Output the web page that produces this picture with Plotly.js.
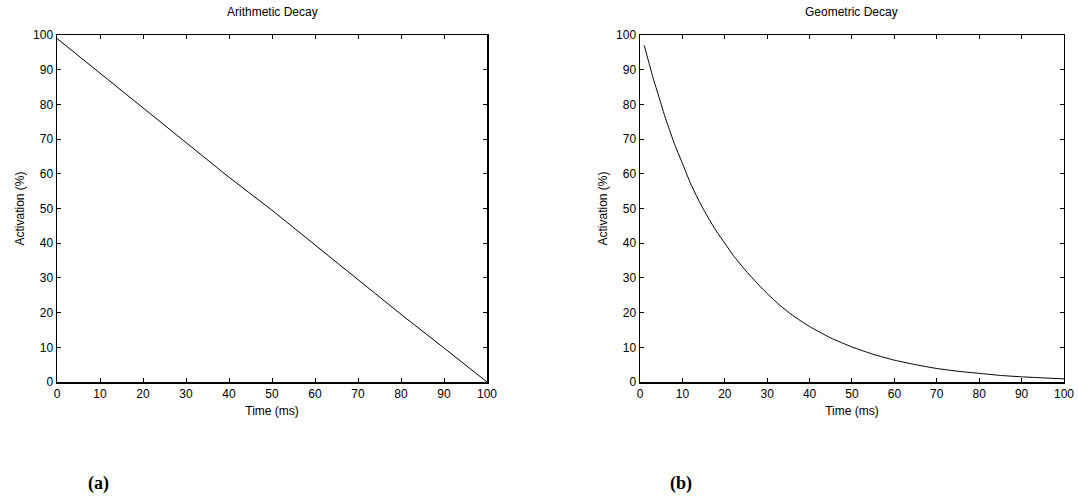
<!DOCTYPE html>
<html>
<head>
<meta charset="utf-8">
<script src="https://cdn.plot.ly/plotly-3.0.1.min.js"></script>
<style>html,body{margin:0;padding:0;background:#fff;}#chart{width:1078px;height:498px;}</style>
</head>
<body>
<div id="chart"></div>
<script>
// Arithmetic decay (panel a)
const arithTime = [0, 10, 20, 30, 40, 50, 60, 70, 80, 90, 100];
const arithActivation = [99, 89, 79, 69, 59, 49.5, 39.5, 29.5, 19.5, 9.8, 0];

// Geometric decay (panel b)
const geoTime = [1, 2, 3, 4, 5, 6, 7, 8, 10, 12, 14, 16, 18, 20, 22, 25, 28, 30, 33, 36, 40, 45, 50, 55, 60, 65, 70, 75, 80, 85, 90, 95, 100];
const geoActivation = [97, 92.5, 88, 84, 80, 76, 72.5, 69, 63, 57, 52, 47.5, 43.5, 40, 36.5, 32, 28, 25.5, 22.1, 19.2, 16, 12.7, 10.1, 8, 6.3, 5, 3.9, 3.1, 2.5, 1.9, 1.5, 1.2, 0.9];

const panelTitles = ["Arithmetic Decay", "Geometric Decay"];
const panelLabels = ["(a)", "(b)"];
const xTitle = "Time (ms)";
const yTitle = "Activation (%)";
const tickVals = [0, 10, 20, 30, 40, 50, 60, 70, 80, 90, 100];

const font = {family: "Liberation Sans, Arial, sans-serif", size: 12, color: "#000"};

function axis(domain, title, anchor) {
  return {
    domain: domain, anchor: anchor, range: [0, 100], tickvals: tickVals,
    ticks: "inside", ticklen: 4, tickcolor: "#000", mirror: "allticks",
    showline: true, linecolor: "#000", linewidth: 1.5, showgrid: false, zeroline: false,
    tickfont: font, title: {text: title, font: font, standoff: 6}
  };
}

const traces = [
  {x: arithTime, y: arithActivation, xaxis: "x", yaxis: "y", mode: "lines",
   line: {color: "#000", width: 1}, hoverinfo: "skip"},
  {x: geoTime, y: geoActivation, xaxis: "x2", yaxis: "y2", mode: "lines",
   line: {color: "#000", width: 1, shape: "spline", smoothing: 0.6}, hoverinfo: "skip"}
];

const yd = [0.2329, 0.9297];
const layout = {
  width: 1078, height: 498, margin: {l: 0, r: 0, t: 0, b: 0},
  paper_bgcolor: "#fff", plot_bgcolor: "#fff", showlegend: false,
  xaxis: axis([0.0529, 0.4518], xTitle, "y"),
  yaxis: axis(yd, yTitle, "x"),
  xaxis2: axis([0.5937, 0.987], xTitle, "y2"),
  yaxis2: axis(yd, yTitle, "x2"),
  annotations: [
    {text: panelTitles[0], xref: "paper", yref: "paper", x: (0.0529+0.4518)/2, y: 0.975, xanchor: "center", yanchor: "middle", showarrow: false, font: font},
    {text: panelTitles[1], xref: "paper", yref: "paper", x: (0.5937+0.987)/2, y: 0.975, xanchor: "center", yanchor: "middle", showarrow: false, font: font},
    {text: "<b>" + panelLabels[0] + "</b>", xref: "paper", yref: "paper", x: 98/1078, y: 1 - 483/498, xanchor: "center", yanchor: "middle", showarrow: false, font: {family: "Liberation Serif, Times New Roman, serif", size: 18, color: "#000"}},
    {text: "<b>" + panelLabels[1] + "</b>", xref: "paper", yref: "paper", x: 681/1078, y: 1 - 483/498, xanchor: "center", yanchor: "middle", showarrow: false, font: {family: "Liberation Serif, Times New Roman, serif", size: 18, color: "#000"}}
  ]
};

Plotly.newPlot("chart", traces, layout, {staticPlot: true, displayModeBar: false});
</script>
</body>
</html>
